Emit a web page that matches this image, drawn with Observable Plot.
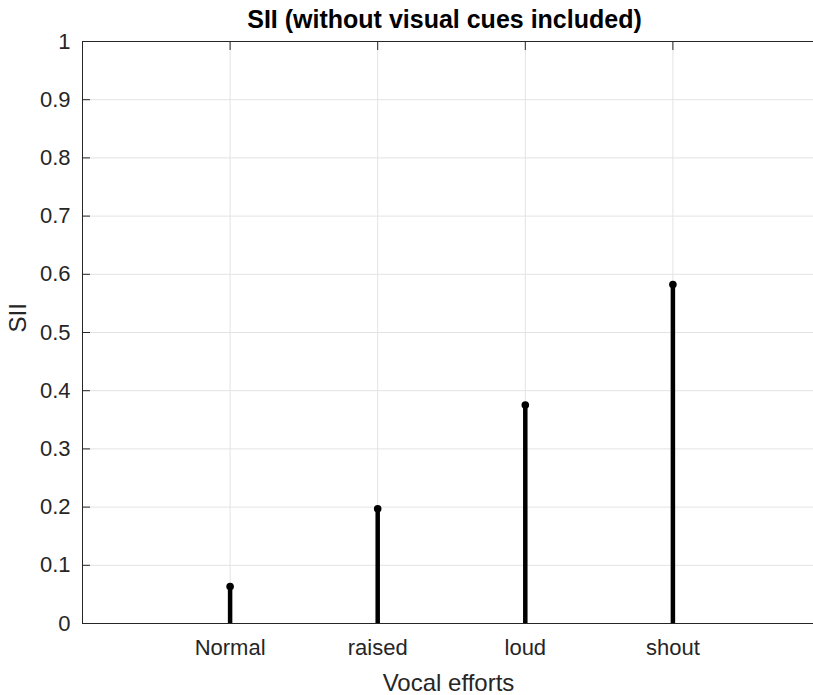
<!DOCTYPE html>
<html>
<head>
<meta charset="utf-8">
<script src="https://cdn.jsdelivr.net/npm/d3@7"></script>
<script src="https://cdn.jsdelivr.net/npm/@observablehq/plot@0.6"></script>
<style>
  html, body { margin: 0; padding: 0; background: #fff; overflow: hidden; }
</style>
</head>
<body>
<div id="chart"></div>
<script>
const categories = ["Normal", "raised", "loud", "shout"];
const positions = [1, 2, 3, 4];
const values = [0.0636, 0.197, 0.3755, 0.5825];
const yTicks = [0, 0.1, 0.2, 0.3, 0.4, 0.5, 0.6, 0.7, 0.8, 0.9, 1];
const yTickLabels = ["0", "0.1", "0.2", "0.3", "0.4", "0.5", "0.6", "0.7", "0.8", "0.9", "1"];
const title = "SII (without visual cues included)";
const xLabel = "Vocal efforts";
const yLabel = "SII";

const data = categories.map((c, i) => ({cat: c, pos: positions[i], value: values[i]}));

const axisColor = "#262626";
const gridColor = "#e3e3e3";
const font = "'Liberation Sans', Arial, Helvetica, sans-serif";

const chart = Plot.plot({
  width: 813,
  height: 695,
  marginLeft: 82,
  marginRight: -7,
  marginTop: 41,
  marginBottom: 72,
  style: {fontFamily: font, color: axisColor, background: "#fff"},
  x: {domain: [0, 5], axis: null},
  y: {domain: [0, 1], axis: null},
  marks: [
    Plot.gridX(positions, {stroke: gridColor, strokeOpacity: 1}),
    Plot.gridY(yTicks, {stroke: gridColor, strokeOpacity: 1}),
    Plot.frame({stroke: axisColor, strokeWidth: 1}),
    // inward ticks on all four sides
    Plot.axisX({anchor: "bottom", ticks: positions, tickSize: -8, tickFormat: () => "", stroke: axisColor, label: null}),
    Plot.axisX({anchor: "top", ticks: positions, tickSize: -8, tickFormat: () => "", stroke: axisColor, label: null}),
    Plot.axisY({anchor: "left", ticks: yTicks, tickSize: -8, tickFormat: () => "", stroke: axisColor, label: null}),
    Plot.axisY({anchor: "right", ticks: yTicks, tickSize: -8, tickFormat: () => "", stroke: axisColor, label: null}),
    // tick labels
    Plot.axisX({anchor: "bottom", ticks: positions, tickSize: 0, tickPadding: 16,
      tickFormat: (d) => categories[positions.indexOf(d)], fontSize: 22, fill: axisColor, label: null}),
    Plot.axisY({anchor: "left", ticks: yTicks, tickSize: 0, tickPadding: 12,
      tickFormat: (d) => yTickLabels[yTicks.indexOf(d)], fontSize: 22, fill: axisColor, label: null}),
    // stems
    Plot.ruleX(data, {x: "pos", y1: 0, y2: "value", stroke: "#000", strokeWidth: 4.5}),
    Plot.dot(data, {x: "pos", y: "value", r: 3.8, fill: "#000", stroke: "none"}),
    // title and axis labels
    Plot.text([title], {frameAnchor: "top", lineAnchor: "bottom", dy: -14, dx: -7,
      fontSize: 25, fontWeight: "bold", fill: "#000"}),
    Plot.text([xLabel], {frameAnchor: "bottom", lineAnchor: "bottom", dy: 67, dx: -3,
      fontSize: 24, fill: axisColor}),
    Plot.text([yLabel], {frameAnchor: "left", rotate: -90, lineAnchor: "middle", dx: -64, dy: 0,
      fontSize: 24, fill: axisColor})
  ]
});

document.getElementById("chart").appendChild(chart);
</script>
</body>
</html>
